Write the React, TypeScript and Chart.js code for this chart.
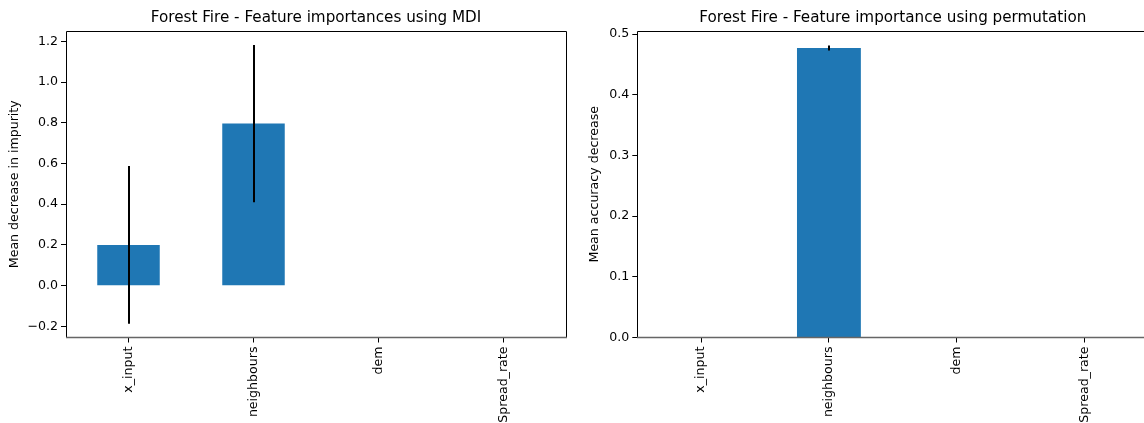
import React, { useEffect, useRef } from "react";
import { Chart, registerables } from "chart.js";

Chart.register(...registerables);

// Feature names shared by both panels
const features = ["x_input", "neighbours", "dem", "Spread_rate"];

// Mean decrease in impurity (MDI) and its standard deviation
const mdiMeans = [0.2, 0.796, 0, 0];
const mdiStd = [0.387, 0.386, 0, 0];

// Permutation importance (mean accuracy decrease) and its standard deviation
const permMeans = [0, 0.477, 0, 0];
const permStd = [0, 0.004, 0, 0];

// Tick values and axis limits
const mdiTicks = [-0.2, 0, 0.2, 0.4, 0.6, 0.8, 1.0, 1.2];
const permTicks = [0, 0.1, 0.2, 0.3, 0.4, 0.5];
const mdiRange = [-0.2544, 1.2504];
const permRange = [0, 0.505];

const FONT = "'DejaVu Sans', 'Liberation Sans', sans-serif";
const TITLE_SIZE = 15.2;
const TICK_SIZE = 12.6;
const BAR_BLUE = "#1f77b4";
const HEIGHT = 423;
const PLOT_BOTTOM = 337.5;
const PLOT_TOP = 31;
const TITLE_PAD_TOP = 9.2;

// Vertical error bars drawn over each bar, plus a full box around the plot area
const errorBarPlugin = {
  id: "errorBars",
  afterDatasetsDraw(chart: any, _args: any, opts: any) {
    const errors: number[] = opts.errors || [];
    const values: number[] = chart.data.datasets[0].data;
    const xs = chart.scales.x;
    const ys = chart.scales.y;
    const ctx = chart.ctx;
    ctx.save();
    ctx.strokeStyle = "#000";
    ctx.lineWidth = 2;
    values.forEach((v, i) => {
      const e = errors[i] || 0;
      if (e <= 0) return;
      const x = Math.round(xs.getPixelForValue(i));
      ctx.beginPath();
      ctx.moveTo(x, ys.getPixelForValue(v - e));
      ctx.lineTo(x, ys.getPixelForValue(v + e));
      ctx.stroke();
    });
    ctx.restore();
  },
  afterDraw(chart: any) {
    const { left, right, top, bottom } = chart.chartArea;
    const ctx = chart.ctx;
    ctx.save();
    ctx.strokeStyle = "#000";
    ctx.lineWidth = 1;
    ctx.beginPath();
    ctx.moveTo(Math.round(left) + 0.5, Math.round(bottom));
    ctx.lineTo(Math.round(left) + 0.5, Math.round(top) + 0.5);
    ctx.lineTo(Math.round(right) + 0.5, Math.round(top) + 0.5);
    ctx.lineTo(Math.round(right) + 0.5, Math.round(bottom));
    ctx.stroke();
    ctx.strokeStyle = "#666";
    ctx.lineWidth = 1.5;
    ctx.beginPath();
    ctx.moveTo(Math.round(left), bottom);
    ctx.lineTo(Math.round(right) + 1, bottom);
    ctx.stroke();
    ctx.restore();
  },
};

type PanelProps = {
  left: number;
  width: number;
  plotLeft: number;
  plotRight: number;
  title: string;
  yLabel: string;
  yLabelPad: number;
  means: number[];
  errors: number[];
  ticks: number[];
  range: number[];
};

function Panel(p: PanelProps) {
  const ref = useRef<HTMLCanvasElement>(null);

  useEffect(() => {
    const chart = new Chart(ref.current as HTMLCanvasElement, {
      type: "bar",
      data: {
        labels: features,
        datasets: [
          {
            data: p.means,
            backgroundColor: BAR_BLUE,
            borderWidth: 0,
            barPercentage: 0.5,
            categoryPercentage: 1,
          },
        ],
      },
      options: {
        responsive: false,
        animation: false,
        devicePixelRatio: 1,
        layout: { padding: { left: 0, right: p.width - p.plotRight, top: 0, bottom: 0 } },
        plugins: {
          legend: { display: false },
          tooltip: { enabled: false },
          title: {
            display: true,
            text: p.title,
            fullSize: false,
            color: "#000",
            font: { family: FONT, size: TITLE_SIZE, weight: "normal" },
            padding: {
              top: TITLE_PAD_TOP,
              bottom: PLOT_TOP - TITLE_PAD_TOP - TITLE_SIZE * 1.2,
            },
          },
          errorBars: { errors: p.errors },
        } as any,
        scales: {
          x: {
            grid: {
              offset: false,
              drawOnChartArea: false,
              drawTicks: true,
              tickLength: 5,
              color: "#000",
            },
            border: { display: false },
            ticks: {
              autoSkip: false,
              minRotation: 90,
              maxRotation: 90,
              padding: 4,
              color: "#000",
              font: { family: FONT, size: TICK_SIZE },
            },
            afterFit: (s: any) => {
              s.height = HEIGHT - PLOT_BOTTOM;
            },
          },
          y: {
            min: p.range[0],
            max: p.range[1],
            afterBuildTicks: (s: any) => {
              s.ticks = p.ticks.map((v) => ({ value: v }));
            },
            grid: {
              drawOnChartArea: false,
              drawTicks: true,
              tickLength: 5,
              color: "#000",
            },
            border: { display: false },
            ticks: {
              padding: 3,
              color: "#000",
              font: { family: FONT, size: TICK_SIZE },
              callback: (v: any) => Number(v).toFixed(1).replace("-", "\u2212"),
            },
            title: {
              display: true,
              text: p.yLabel,
              color: "#000",
              font: { family: FONT, size: TICK_SIZE },
              padding: { top: p.yLabelPad, bottom: 0 },
            },
            afterFit: (s: any) => {
              s.width = p.plotLeft;
            },
          },
        },
      } as any,
      plugins: [errorBarPlugin],
    });
    return () => chart.destroy();
  }, []);

  return (
    <canvas
      ref={ref}
      width={p.width}
      height={HEIGHT}
      style={{ position: "absolute", left: p.left, top: 0, width: p.width, height: HEIGHT }}
    />
  );
}

export default function App() {
  return (
    <div
      style={{
        position: "fixed",
        left: 0,
        top: 0,
        width: 1144,
        height: HEIGHT,
        overflow: "hidden",
        background: "#fff",
      }}
    >
      <Panel
        left={0}
        width={572}
        plotLeft={66}
        plotRight={566}
        title="Forest Fire - Feature importances using MDI"
        yLabel="Mean decrease in impurity"
        yLabelPad={7.5}
        means={mdiMeans}
        errors={mdiStd}
        ticks={mdiTicks}
        range={mdiRange}
      />
      <Panel
        left={572}
        width={600}
        plotLeft={65.3}
        plotRight={576.3}
        title="Forest Fire - Feature importance using permutation"
        yLabel="Mean accuracy decrease"
        yLabelPad={15.5}
        means={permMeans}
        errors={permStd}
        ticks={permTicks}
        range={permRange}
      />
    </div>
  );
}
